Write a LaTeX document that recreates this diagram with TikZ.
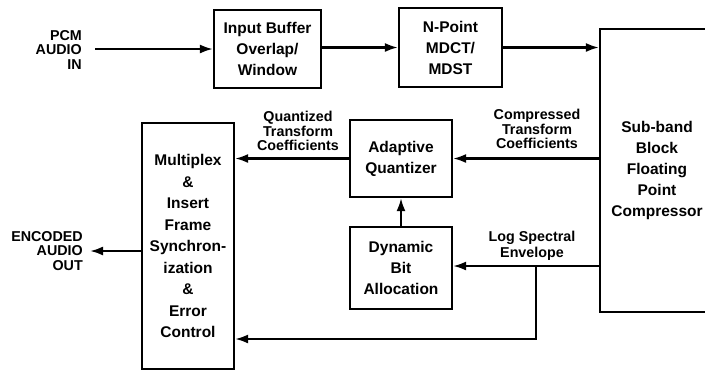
\documentclass[tikz,border=0pt]{standalone}
\usepackage{fontspec}
\setmainfont{Liberation Sans}
\usetikzlibrary{arrows.meta}
\begin{document}
\begin{tikzpicture}[x=1pt,y=-1pt,
  blk/.style={draw,line width=2.2pt,inner sep=0pt,align=center,
    font=\fontsize{15.5}{21}\selectfont\bfseries},
  lbl/.style={inner sep=0pt,align=center,font=\fontsize{14.3}{14.5}\selectfont\bfseries},
  lblr/.style={inner sep=0pt,align=right,font=\fontsize{14.3}{14.5}\selectfont\bfseries},
  arr/.style={line width=2.2pt,-{Latex[length=13pt,width=9pt]}},
  ln/.style={line width=2.2pt}]
\path[use as bounding box, clip] (0,0) rectangle (705,373);
% blocks
\node[blk,minimum width=107pt,minimum height=78pt] (ibuf) at (267.5,49) {Input Buffer\\Overlap/\\Window};
\node[blk,minimum width=103pt,minimum height=79pt] (mdct) at (450.5,47.5) {N-Point\\MDCT/\\MDST};
\node[blk,minimum width=114pt,minimum height=283pt] (comp) at (657,170.5) {Sub-band\\Block\\Floating\\Point\\Compressor};
\node[blk,minimum width=102pt,minimum height=77pt] (aq) at (401,158.5) {Adaptive\\Quantizer};
\node[blk,minimum width=102pt,minimum height=82pt] (dba) at (401,268) {Dynamic\\Bit\\Allocation};
\node[blk,minimum width=92pt,minimum height=246pt,font=\fontsize{15.5}{21.5}\selectfont\bfseries] (mux) at (188,246)
  {Multiplex\\\&\\Insert\\Frame\\Synchron-\\ization\\\&\\Error\\Control};
% external labels
\node[lblr,anchor=east] (pcm) at (82,50) {PCM\\AUDIO\\IN};
\node[lblr,anchor=east] (enc) at (83,251) {ENCODED\\AUDIO\\OUT};
\node[lbl] (qtc) at (298,131) {Quantized\\Transform\\Coefficients};
\node[lbl] (ctc) at (537,129) {Compressed\\Transform\\Coefficients};
\node[lbl,font=\fontsize{14.3}{16}\selectfont\bfseries] (lse) at (532,246) {Log Spectral\\Envelope};
% coordinates
\coordinate (pcmend) at (95,49);
\coordinate (encend) at (90,251);
\coordinate (br) at (536,266);
\coordinate (brlow) at (536,339);
% connectors
\draw[arr] (pcmend) -- (ibuf.west |- pcmend);
\draw[arr] (ibuf.east |- mdct.west) -- (mdct.west);
\draw[arr] (mdct.east) -- (comp.west |- mdct.east);
\draw[arr] (comp.west |- aq.east) -- (aq.east);
\draw[arr] (comp.west |- br) -- (dba.east |- br);
\draw[arr] (dba.north) -- (aq.south);
\draw[arr] (aq.west) -- (mux.east |- aq.west);
\draw[arr] (br) |- (mux.east |- brlow);
\draw[arr] (mux.west |- encend) -- (encend);
\end{tikzpicture}
\end{document}
